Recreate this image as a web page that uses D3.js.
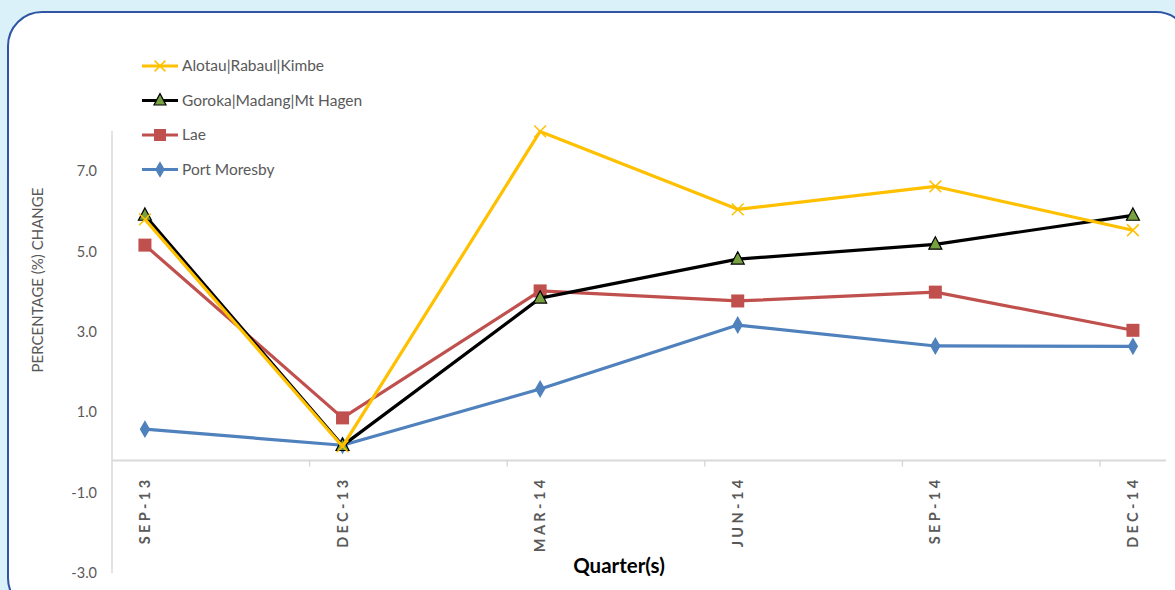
<!DOCTYPE html>
<html>
<head>
<meta charset="utf-8">
<script src="https://cdn.jsdelivr.net/npm/d3@7"></script>
<style>
  html, body { margin: 0; padding: 0; background: #dbf1fa; }
  svg { display: block; }
</style>
</head>
<body>
<svg id="chart" width="1175" height="590"></svg>
<script>
// Quarterly percentage change by urban centre
const quarters = ["SEP-13", "DEC-13", "MAR-14", "JUN-14", "SEP-14", "DEC-14"];
const seriesNames = ["Port Moresby", "Lae", "Goroka|Madang|Mt Hagen", "Alotau|Rabaul|Kimbe"];
const portMoresby = [0.58, 0.18, 1.58, 3.17, 2.65, 2.64];
const lae = [5.16, 0.86, 4.02, 3.77, 3.99, 3.04];
const goroka = [5.9, 0.17, 3.84, 4.81, 5.18, 5.9];
const alotau = [5.8, 0.15, 7.99, 6.05, 6.62, 5.53];
const yTicks = [-3, -1, 1, 3, 5, 7];
const yDomain = [-3, 8];
const xAxisCross = -0.2;
const legendOrder = ["Alotau|Rabaul|Kimbe", "Goroka|Madang|Mt Hagen", "Lae", "Port Moresby"];

const styles = {
  "Port Moresby": { color: "#4f81bd", marker: "diamond", fill: "#4f81bd", stroke: "none" },
  "Lae": { color: "#c0504d", marker: "square", fill: "#c0504d", stroke: "none" },
  "Goroka|Madang|Mt Hagen": { color: "#000000", marker: "triangle", fill: "#77a040", stroke: "#000000" },
  "Alotau|Rabaul|Kimbe": { color: "#ffc000", marker: "cross", fill: "none", stroke: "#ffc000" }
};
const seriesValues = {
  "Port Moresby": portMoresby,
  "Lae": lae,
  "Goroka|Madang|Mt Hagen": goroka,
  "Alotau|Rabaul|Kimbe": alotau
};

const svg = d3.select("#chart");

// Rounded white panel
svg.append("rect")
  .attr("x", 8).attr("y", 12)
  .attr("width", 1182).attr("height", 600)
  .attr("rx", 34).attr("ry", 34)
  .attr("fill", "#ffffff")
  .attr("stroke", "#2f55a4")
  .attr("stroke-width", 2);

const plotLeft = 112, plotTop = 131, plotBottom = 573;
const bandW = 197.6;

// Category bands; each point sits in the first sixth of its band
const x = d3.scaleBand().domain(quarters).range([plotLeft, plotLeft + bandW * quarters.length]).padding(0);
const cx = q => x(q) + x.bandwidth() / 6;
const y = d3.scaleLinear().domain(yDomain).range([plotBottom, plotTop]);

const font = "Lato, 'Open Sans', sans-serif";
const gray = "#595959";

// Vertical axis line
svg.append("line")
  .attr("x1", plotLeft).attr("x2", plotLeft)
  .attr("y1", y(yDomain[1])).attr("y2", y(yDomain[0]))
  .attr("stroke", "#d9d9d9").attr("stroke-width", 1.5);

// Y tick labels
const fmt = d3.format(".1f");
const yAxis = d3.axisLeft(y).tickValues(yTicks).tickFormat(d => fmt(d).replace("\u2212", "-")).tickSize(0).tickPadding(15);
const yg = svg.append("g").attr("transform", `translate(${plotLeft},0)`).call(yAxis);
yg.select(".domain").remove();
yg.selectAll("text").attr("font-family", font).attr("font-size", 14.5).attr("fill", gray);

// Y axis title
svg.append("text")
  .attr("transform", `translate(43,${(y(yDomain[1]) + y(yDomain[0])) / 2 - 72}) rotate(-90)`)
  .attr("text-anchor", "middle")
  .attr("font-family", font).attr("font-size", 15).attr("fill", gray)
  .text("PERCENTAGE (%) CHANGE");

// Horizontal category axis
const xAxisY = y(xAxisCross);
svg.append("line")
  .attr("x1", plotLeft).attr("x2", 1166)
  .attr("y1", xAxisY).attr("y2", xAxisY)
  .attr("stroke", "#d9d9d9").attr("stroke-width", 2);
svg.append("g").selectAll("line")
  .data(quarters.slice(1))
  .join("line")
  .attr("x1", d => x(d)).attr("x2", d => x(d))
  .attr("y1", xAxisY).attr("y2", xAxisY + 6)
  .attr("stroke", "#d9d9d9").attr("stroke-width", 1.5);

svg.append("g").selectAll("text")
  .data(quarters)
  .join("text")
  .attr("transform", d => `translate(${cx(d) + 5},${xAxisY + 16}) rotate(-90)`)
  .attr("text-anchor", "end")
  .attr("font-family", font).attr("font-size", 14.5).attr("font-weight", "bold")
  .attr("letter-spacing", 3.4)
  .attr("fill", gray)
  .text(d => d);

// Axis title
svg.append("text")
  .attr("x", 619).attr("y", 573)
  .attr("text-anchor", "middle")
  .attr("font-family", font).attr("font-size", 20.5).attr("font-weight", "bold")
  .attr("fill", "#000")
  .text("Quarter(s)");

// Marker drawing
function drawMarker(g, type, st, size) {
  if (type === "diamond") {
    g.append("path").attr("d", d3.symbol(d3.symbolDiamond, size * size * 0.55)()).attr("fill", st.fill);
  } else if (type === "square") {
    g.append("rect").attr("x", -size / 2).attr("y", -size / 2).attr("width", size).attr("height", size).attr("fill", st.fill);
  } else if (type === "triangle") {
    const s = size * 0.5;
    g.append("path").attr("d", `M0,${-s * 1.15} L${s},${s * 0.75} L${-s},${s * 0.75} Z`)
      .attr("fill", st.fill).attr("stroke", st.stroke).attr("stroke-width", 1.2);
  } else if (type === "cross") {
    const s = size * 0.45;
    g.append("path").attr("d", `M${-s},${-s} L${s},${s} M${s},${-s} L${-s},${s}`)
      .attr("stroke", st.stroke).attr("stroke-width", 1.5).attr("fill", "none");
  }
}

const line = d3.line().x((d, i) => cx(quarters[i])).y(d => y(d));

seriesNames.forEach(name => {
  const st = styles[name];
  const vals = seriesValues[name];
  svg.append("path")
    .datum(vals)
    .attr("d", line)
    .attr("fill", "none")
    .attr("stroke", st.color)
    .attr("stroke-width", 3.2)
    .attr("stroke-linejoin", "round");
  vals.forEach((v, i) => {
    const g = svg.append("g").attr("transform", `translate(${cx(quarters[i])},${y(v)})`);
    drawMarker(g, st.marker, st, 13);
  });
});

// Legend
const legend = svg.append("g");
legendOrder.forEach((name, i) => {
  const st = styles[name];
  const ly = 66 + i * 34.5;
  legend.append("line")
    .attr("x1", 142).attr("x2", 178).attr("y1", ly).attr("y2", ly)
    .attr("stroke", st.color).attr("stroke-width", 3.2);
  const g = legend.append("g").attr("transform", `translate(160,${ly})`);
  drawMarker(g, st.marker, st, 12);
  legend.append("text")
    .attr("x", 182).attr("y", ly + 5)
    .attr("font-family", font).attr("font-size", 15.5).attr("fill", gray)
    .text(name);
});
</script>
</body>
</html>
